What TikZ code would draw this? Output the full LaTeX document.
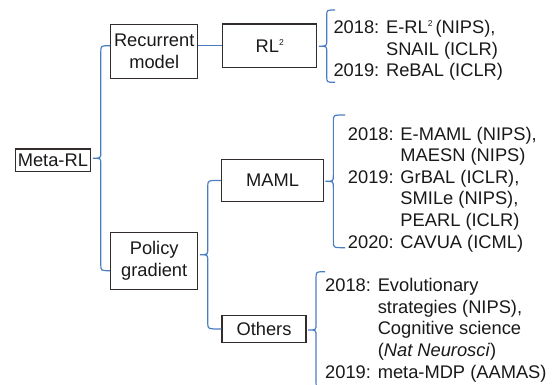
\documentclass[tikz,border=0pt]{standalone}
\usepackage{fontspec}
\setmainfont{Liberation Sans}
\usepackage{tikz}
\usetikzlibrary{calc}
\definecolor{curlblue}{RGB}{74,126,190}
\definecolor{boxline}{RGB}{50,45,42}
\tikzset{box/.style = {draw = boxline, line width = 1.1pt, inner sep = 0pt, align = center, text = black!90, font = \fontsize{18.3}{21.6}\selectfont},
refs/.style = {anchor = north west, inner sep = 0pt, align = left, text = black!90, font = \fontsize{18.3}{21.6}\selectfont},
curl/.style = {draw = curlblue, line width = 1.2pt}}
\newcommand{\sqr}{\raisebox{7.2pt}{\fontsize{8.5}{8.5}\selectfont 2}}
%brace from a parent box (#1) to the ends #2 and #3
\newcommand{\curly}[3]{%
\coordinate (mid) at ($(#2)!.5!(#3)$);
\coordinate (tip) at ($(#1.east |- mid)+(1.5,0)$);
\coordinate (sp) at ($(tip)+(8,0)$);
\draw[curl] (#2) .. controls (sp |- #2) .. ($(sp |- #2)+(0,6)$) -- ($(sp)+(0,-6)$) .. controls (sp) .. (tip) .. controls (sp) .. ($(sp)+(0,6)$) -- ($(sp |- #3)+(0,-6)$) .. controls (sp |- #3) .. (#3);}

\begin{document}
\begin{tikzpicture}[x = 1pt, y = -1pt]
\useasboundingbox (0,0) rectangle (554,385);
\clip (0,0) rectangle (554,385);
%boxes
\node[box, minimum width = 75.7, minimum height = 22.7] (meta) at (52.9,160.4) {Meta-RL};
\node[box, minimum width = 87, minimum height = 54.4] (rec) at (154.2,51.5) {Recurrent\\model};
\node[box, minimum width = 87, minimum height = 56.6] (pol) at (154.2,261) {Policy\\gradient};
\node[box, minimum width = 94, minimum height = 43.7] (rl2) at (269.7,45.9) {RL\sqr};
\node[box, minimum width = 101.6, minimum height = 42.7] (maml) at (272.5,180.4) {MAML};
\node[box, minimum width = 84, minimum height = 26.6] (oth) at (264,329) {Others};
%papers
\node[refs] (rlrefs) at (333.3,20) {2018: E-RL\sqr\,(NIPS),\\\hphantom{2018: }SNAIL (ICLR)\\2019: ReBAL (ICLR)};
\node[refs] (mamlrefs) at (347.7,126.6) {2018: E-MAML (NIPS),\\\hphantom{2018: }MAESN (NIPS)\\2019: GrBAL (ICLR),\\\hphantom{2019: }SMILe (NIPS),\\\hphantom{2019: }PEARL (ICLR)\\2020: CAVUA (ICML)};
\node[refs] (othrefs) at (325,278.3) {2018: Evolutionary\\\hphantom{2018: }strategies (NIPS),\\\hphantom{2018: }Cognitive science\\\hphantom{2018: }(\textit{Nat Neurosci})\\2019: meta-MDP (AAMAS)};
%connectors
\draw[curl] (rl2.west) -- (rl2.west -| rec.east);
\coordinate (recEnd) at ($(rec.west)+(0,-5.8)$);
\coordinate (polEnd) at ($(pol.west)+(0,9.7)$);
\curly{meta}{recEnd}{polEnd}
\curly{pol}{maml.west}{oth.west}
\coordinate (rlA) at (335,10);
\coordinate (rlB) at (335,82.3);
\curly{rl2}{rlA}{rlB}
\coordinate (mamlA) at (345,115);
\coordinate (mamlB) at (345,247.7);
\curly{maml}{mamlA}{mamlB}
\coordinate (othA) at (325,271.7);
\coordinate (othB) at (325,388.3);
\curly{oth}{othA}{othB}
\end{tikzpicture}
\end{document}
